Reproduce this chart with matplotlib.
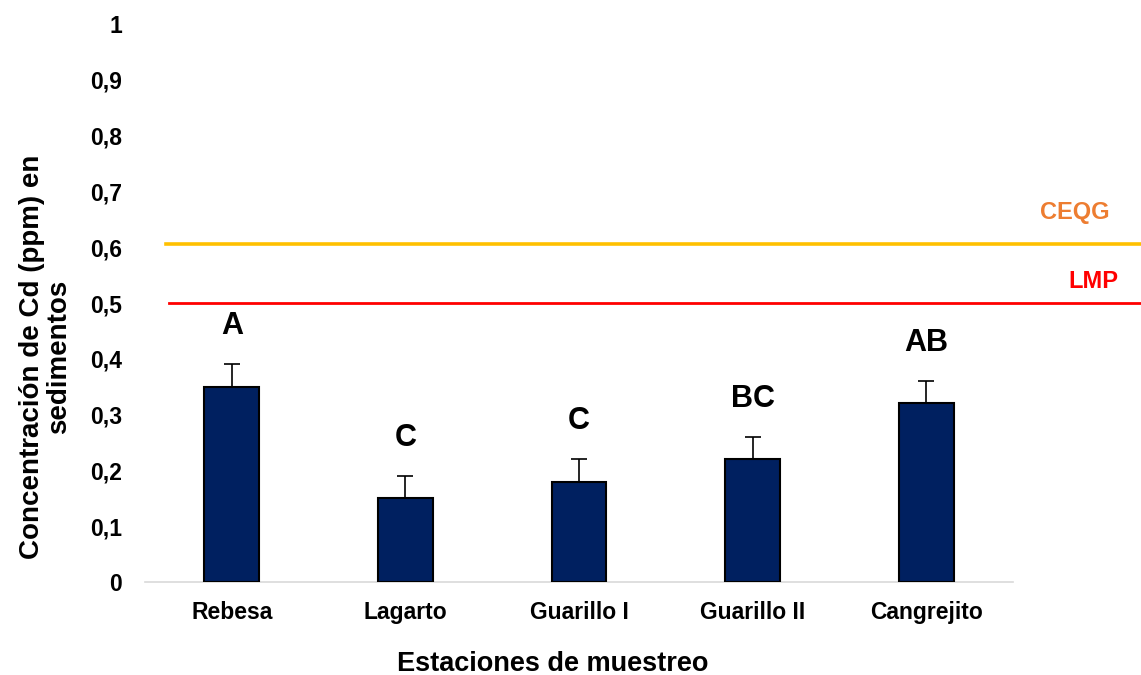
import matplotlib
matplotlib.use("Agg")
import matplotlib.pyplot as plt
from matplotlib.ticker import FuncFormatter

plt.rcParams['font.family'] = ['Liberation Sans', 'DejaVu Sans']

# Cadmium in sediments by sampling station
stations = ["Rebesa", "Lagarto", "Guarillo I", "Guarillo II", "Cangrejito"]
cd_ppm = [0.35, 0.15, 0.18, 0.22, 0.32]
cd_err = [0.04, 0.04, 0.04, 0.04, 0.04]
groups = ["A", "C", "C", "BC", "AB"]

# Reference limits
ceqg_value = 0.606
lmp_value = 0.5

fig = plt.figure(figsize=(11.41, 6.75), dpi=100)
ax = fig.add_axes([145 / 1141, 1 - 582 / 675, 868 / 1141, 558 / 675])

x = list(range(len(stations)))
ax.bar(x, cd_ppm, width=0.316, color="#002060", edgecolor="black",
       linewidth=1.5, zorder=3)
ax.errorbar(x, cd_ppm, yerr=[[0] * len(cd_err), cd_err], fmt="none",
            ecolor="black", elinewidth=1.2, capsize=6, capthick=1.2, zorder=4)

for xi, v, e, g in zip(x, cd_ppm, cd_err, groups):
    ax.text(xi, v + e + 0.068, g, ha="center", va="center",
            fontsize=22, fontweight="bold", color="black")

# Guideline lines run past the plotting area to the figure edge
ax.axhline(ceqg_value, xmin=21 / 868, xmax=996 / 868, color="#FFC000",
           linewidth=2.6, clip_on=False, zorder=2)
ax.axhline(lmp_value, xmin=24 / 868, xmax=996 / 868, color="#FF0000",
           linewidth=2.0, clip_on=False, zorder=2)
fig.text(1075 / 1141, 1 - 212 / 675, "CEQG", color="#ED7D31", fontsize=17,
         fontweight="bold", ha="center", va="center")
fig.text(1093 / 1141, 1 - 281 / 675, "LMP", color="#FF0000", fontsize=17,
         fontweight="bold", ha="center", va="center")

ax.set_xlim(-0.5, 4.5)
ax.set_ylim(0, 1)
ax.set_yticks([i / 10 for i in range(11)])
ax.yaxis.set_major_formatter(FuncFormatter(
    lambda v, p: "0" if v == 0 else ("1" if v == 1 else f"{v:.1f}".replace(".", ","))))
ax.set_xticks(x)
ax.set_xticklabels(stations)
ax.tick_params(axis="both", length=0, labelsize=16.5)
ax.tick_params(axis="y", pad=16.5)
ax.tick_params(axis="x", pad=14)
for lbl in ax.get_xticklabels() + ax.get_yticklabels():
    lbl.set_fontweight("bold")

for side in ["top", "right", "left"]:
    ax.spines[side].set_visible(False)
ax.spines["bottom"].set_color("#D9D9D9")
ax.spines["bottom"].set_linewidth(1.2)

fig.text(553 / 1141, 1 - 664 / 675, "Estaciones de muestreo", fontsize=19.5,
         fontweight="bold", ha="center", va="center")
fig.text(46 / 1141, 1 - 357 / 675, "Concentración de Cd (ppm) en\nsedimentos",
         fontsize=20, fontweight="bold", ha="center", va="center",
         rotation=90, multialignment="center", linespacing=1.05)

fig.savefig("out.png", dpi=100)
